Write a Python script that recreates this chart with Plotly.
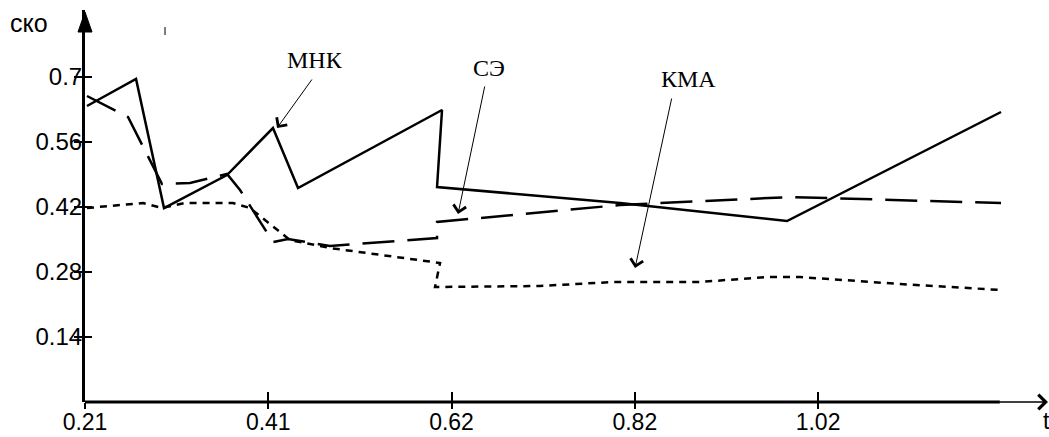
import plotly.graph_objects as go

# ---- data ----
tick_x_vals = [0.21, 0.4125, 0.615, 0.8175, 1.02]
tick_x_text = ["0.21", "0.41", "0.62", "0.82", "1.02"]
tick_y_vals = [0.14, 0.28, 0.42, 0.56, 0.7]
tick_y_text = ["0.14", "0.28", "0.42", "0.56", "0.7"]

mnk_x = [0.2122, 0.2664, 0.2973, 0.3669, 0.4177, 0.4454, 0.6045, 0.5990, 0.8012, 0.9857, 1.2222]
mnk_y = [0.6375, 0.6957, 0.4178, 0.4889, 0.5901, 0.4609, 0.6289, 0.4631, 0.4286, 0.3898, 0.6246]

se_x = [0.2122, 0.2575, 0.2951, 0.3260, 0.3669, 0.3813, 0.4177, 0.4343, 0.4807, 0.5990, 0.5990, 0.8012, 0.9890, 1.2222]
se_y = [0.6591, 0.6138, 0.4695, 0.4717, 0.4911, 0.4566, 0.3446, 0.3511, 0.3360, 0.3532, 0.3877, 0.4243, 0.4415, 0.4286]

kma_x = [0.2122, 0.2741, 0.2951, 0.3205, 0.3735, 0.3923, 0.4365, 0.4807, 0.6023, 0.5968, 0.7128, 0.7934,
         0.8896, 0.9636, 1.0001, 1.0586, 1.1106, 1.2222]
kma_y = [0.4178, 0.4286, 0.4178, 0.4286, 0.4286, 0.4178, 0.3489, 0.3317, 0.2994, 0.2477, 0.2498, 0.2585,
         0.2585, 0.2692, 0.2692, 0.2606, 0.2541, 0.2412]

labels = ["МНК", "СЭ", "КМА"]
label_x = [0.4642, 0.6564, 0.8774]
label_y = [0.7366, 0.7194, 0.6957]
arrow_head_x = [0.4222, 0.6222, 0.8178]
arrow_head_y = [0.5901, 0.4049, 0.2886]
arrow_tail_x = [0.4619, 0.6520, 0.8586]
arrow_tail_y = [0.6978, 0.6828, 0.6569]

x_range = [0.21, 1.2741]
y_range = [0, 0.8443]

fig = go.Figure()
fig.add_trace(go.Scatter(x=mnk_x, y=mnk_y, mode="lines", line=dict(color="black", width=2.5),
                         name="МНК", showlegend=False))
fig.add_trace(go.Scatter(x=se_x, y=se_y, mode="lines", line=dict(color="black", width=2.5, dash="32px,13px"),
                         name="СЭ", showlegend=False))
fig.add_trace(go.Scatter(x=kma_x, y=kma_y, mode="lines", line=dict(color="black", width=2.5, dash="7px,6px"),
                         name="КМА", showlegend=False))
# invisible helper trace for overlay axes
fig.add_trace(go.Scatter(x=[x_range[0]], y=[y_range[0]], xaxis="x2", yaxis="y2", mode="markers",
                         marker=dict(opacity=0), showlegend=False, hoverinfo="skip"))

tickfont = dict(family="Liberation Sans, Arial, sans-serif", size=24, color="black")
xtickfont = dict(family="Liberation Sans, Arial, sans-serif", size=23, color="black")

fig.update_layout(
    width=1049, height=437, autosize=False,
    margin=dict(l=85, r=1, t=10, b=35),
    paper_bgcolor="white", plot_bgcolor="white",
    template="none",
    xaxis=dict(range=x_range, tickvals=tick_x_vals, ticktext=tick_x_text, ticks="inside", ticklen=10,
               tickwidth=2, tickcolor="black", showline=False, showgrid=False, zeroline=False,
               tickfont=xtickfont, automargin=False, ticklabelstandoff=4),
    yaxis=dict(range=y_range, tickvals=tick_y_vals, ticktext=tick_y_text, ticks="inside", ticklen=7,
               tickwidth=2, tickcolor="black", showline=True, linewidth=3, linecolor="black",
               showgrid=False, zeroline=False, tickfont=tickfont, automargin=False, ticklabelstandoff=-5),
    xaxis2=dict(range=x_range, overlaying="x", tickvals=tick_x_vals, ticks="outside", ticklen=6, tickwidth=2,
                tickcolor="black", showticklabels=False, showgrid=False, zeroline=False, showline=False,
                automargin=False),
    yaxis2=dict(range=y_range, overlaying="y", tickvals=tick_y_vals, ticks="outside", ticklen=10, tickwidth=2,
                tickcolor="black", showticklabels=False, showgrid=False, zeroline=False, showline=False,
                automargin=False),
)

# x axis line (thick part) and y arrow head
fig.add_shape(type="line", xref="paper", yref="paper", x0=0, x1=0.95, y0=0, y1=0,
              line=dict(color="black", width=3))
fig.add_shape(type="path", xref="paper", yref="paper", xsizemode="pixel", ysizemode="pixel",
              xanchor=0, yanchor=1, path="M-7,-22 L7,-22 L0,-2 Z",
              fillcolor="black", line=dict(color="black", width=1))

annotations = []
# thin end of x axis with open arrow
annotations.append(dict(xref="paper", yref="paper", x=1.0, y=0, ax=-50, ay=0, axref="pixel", ayref="pixel",
                        showarrow=True, arrowhead=4, arrowwidth=1.3, arrowsize=2.2, arrowcolor="black", text=""))
for t, lx, ly, hx, hy, tx, ty in zip(labels, label_x, label_y, arrow_head_x, arrow_head_y, arrow_tail_x, arrow_tail_y):
    annotations.append(dict(x=lx, y=ly, xref="x", yref="y", text=t, showarrow=False,
                            xanchor="center", yanchor="middle",
                            font=dict(family="Liberation Serif, Times New Roman, serif", size=24, color="black")))
    annotations.append(dict(x=hx, y=hy, ax=tx, ay=ty, xref="x", yref="y", axref="x", ayref="y", text="",
                            showarrow=True, arrowhead=4, arrowwidth=1, arrowsize=2.5, arrowcolor="black"))
annotations.append(dict(xref="paper", yref="paper", x=-0.058, y=0.966, text="ско", showarrow=False,
                        xanchor="center", yanchor="middle",
                        font=dict(family="Liberation Sans, Arial, sans-serif", size=25, color="black")))
annotations.append(dict(xref="paper", yref="paper", x=1.0, y=-0.048, text="t", showarrow=False,
                        xanchor="left", yanchor="middle", xshift=-7,
                        font=dict(family="Liberation Sans, Arial, sans-serif", size=23, color="black")))
annotations.append(dict(xref="paper", yref="paper", x=(165 - 85) / 963, y=(402 - 30) / 392, text="ı",
                        showarrow=False, xanchor="center", yanchor="middle",
                        font=dict(family="Liberation Sans, Arial, sans-serif", size=14, color="#333")))
fig.update_layout(annotations=annotations)

fig.write_html("out.html", config={"displayModeBar": False},
               post_script="document.body.style.margin='0';document.body.style.padding='0';")
